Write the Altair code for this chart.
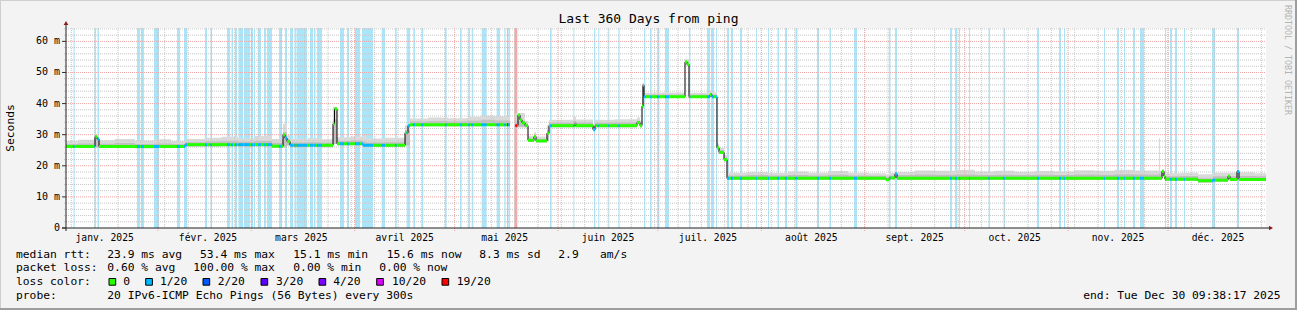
import altair as alt
import pandas as pd

# ---------------- data ----------------
T_START = 3.4     # 2025-01-04 09:38, in days since 2025-01-01 00:00
T_END = 363.4     # 2025-12-30 09:38
Y_MAX = 64.3      # ms at top of the canvas

month_start_day = [0, 31, 59, 90, 120, 151, 181, 212, 243, 273, 304, 334]
month_labels = ["janv. 2025", "févr. 2025", "mars 2025", "avril 2025", "mai 2025",
                "juin 2025", "juil. 2025", "août 2025", "sept. 2025", "oct. 2025",
                "nov. 2025", "déc. 2025"]
monday_days = list(range(5, 364, 7))
y_tick_values = [0, 10, 20, 30, 40, 50, 60]
y_tick_labels = ["0\u00a0\u00a0", "10 m", "20 m", "30 m", "40 m", "50 m", "60 m"]
y_minor_values = [v for v in range(2, 65, 2) if v % 10 != 0]

# median rtt (ms), step series: value holds from start until next start
median_start = [3.4, 12.1, 12.7, 13.3, 39.1, 65.2, 68.5, 69.1, 69.7, 70.6, 83.5, 83.95,
                84.7, 92.5, 105.1, 106.0, 106.6, 136.6, 138.2, 139.0, 139.6, 140.2, 141.1,
                142.0, 143.8, 144.4, 147.7, 148.3, 156.1, 156.4, 161.5, 162.1, 174.7, 175.6,
                176.2, 176.5, 176.8, 189.1, 189.7, 190.3, 196.6, 197.2, 198.7, 199.3, 200.8,
                201.7, 249.4, 250.3, 252.1, 252.7, 332.2, 332.8, 333.1, 343.0, 347.5, 352.0,
                352.6, 354.7, 355.3]
median_ms = [26.2, 29.3, 28.6, 26.2, 26.8, 26.3, 30.0, 28.9, 27.8, 26.6, 33.5, 38.3,
             27.1, 26.6, 30.6, 32.9, 33.2, None, 32.9, 36.3, 34.8, 33.8, 32.9,
             28.2, 29.4, 28.0, 30.5, 32.9, 33.6, 32.9, 31.6, 32.9, 33.9, 32.9,
             39.2, 45.9, 42.2, 53.4, 52.6, 42.2, 42.9, 42.2, 25.8, 24.3, 22.0,
             16.0, 15.5, 16.1, 17.4, 16.0, 18.2, 16.6, 15.7, 15.2, 15.4, 16.6,
             15.6, 18.2, 15.6]

# smoke (ping spread), step series
smoke_start = [3.4, 7.0, 12.1, 13.3, 18.0, 24.0, 30.0, 35.0, 39.1, 45.0, 50.0, 55.0, 60.0,
               65.2, 68.5, 69.7, 70.6, 76.0, 80.0, 83.5, 84.7, 89.0, 92.5, 93.5, 99.0,
               105.1, 106.6, 112.0, 118.0, 124.0, 128.0, 132.0, 136.6, 138.2, 141.1, 142.0,
               143.8, 144.4, 147.7, 148.3, 155.5, 156.4, 161.5, 162.1, 168.0, 174.7, 175.6,
               176.2, 176.8, 182.0, 189.1, 190.3, 196.6, 197.2, 198.7, 199.3, 200.8, 201.7,
               208.0, 214.0, 220.0, 226.0, 232.0, 238.0, 244.0, 249.4, 250.3, 252.1, 252.7,
               258.0, 264.0, 270.0, 276.0, 282.0, 288.0, 294.0, 300.0, 306.0, 312.0, 318.0,
               324.0, 326.0, 326.3, 331.3, 331.6, 332.2, 332.8, 333.1, 338.0, 343.0, 347.5,
               352.0, 352.6, 354.7, 355.3, 360.0]
smoke_lo = [25.7, 25.7, 25.9, 25.7, 25.7, 25.6, 25.7, 25.7, 26.2, 26.2, 26.3, 26.2, 26.3,
            25.8, 26.0, 26.5, 26.0, 26.1, 26.0, 27.0, 26.6, 26.6, 26.1, 26.1, 26.1,
            26.5, 32.7, 32.7, 32.7, 32.7, 32.8, 32.7, None, 32.4, 32.4, 27.7,
            28.9, 27.6, 28.0, 32.4, 32.4, 32.4, 31.2, 32.4, 32.4, 33.4, 32.4,
            38.5, 41.8, 41.8, 52.6, 41.8, 42.3, 41.8, 25.3, 23.8, 21.5, 15.5,
            15.5, 15.5, 15.5, 15.5, 15.5, 15.5, 15.5, 15.1, 15.6, 16.6, 15.5,
            15.5, 15.5, 15.5, 15.5, 15.5, 15.5, 15.5, 15.5, 15.5, 15.5, 15.5,
            15.5, 15.5, 15.5, 15.5, 15.5, 16.8, 15.9, 15.2, 15.2, 14.6, 14.9,
            15.9, 15.1, 17.2, 15.1, 15.1]
smoke_mid = [27.0, 27.2, 28.8, 27.1, 27.3, 27.0, 27.2, 27.0, 27.6, 27.8, 27.9, 27.7, 28.0,
             27.4, 30.8, 28.6, 27.5, 27.6, 27.4, 35.0, 28.0, 28.1, 27.8, 27.5, 27.6,
             31.5, 34.2, 34.4, 34.2, 34.5, 34.8, 34.6, None, 34.5, 33.6, 28.8,
             30.0, 28.6, 31.5, 33.8, 34.5, 33.9, 32.6, 33.8, 33.9, 34.5, 33.6,
             42.0, 42.8, 42.9, 53.6, 42.8, 43.3, 42.8, 26.5, 25.0, 22.7, 16.9,
             17.0, 16.9, 17.0, 16.9, 17.1, 16.9, 16.8, 16.3, 16.9, 18.0, 17.0,
             17.2, 17.1, 17.2, 17.0, 17.1, 17.0, 17.1, 17.0, 17.2, 17.1, 17.3,
             17.2, 17.5, 17.2, 17.5, 17.2, 18.5, 17.3, 16.6, 16.7, 16.0, 16.6,
             17.0, 16.6, 18.5, 16.7, 16.6]
smoke_hi = [28.0, 28.4, 29.8, 28.2, 28.6, 28.1, 28.5, 28.0, 28.6, 29.0, 29.3, 28.8, 29.6,
            28.6, 33.5, 29.8, 28.6, 28.9, 28.5, 39.0, 29.2, 29.4, 30.0, 28.8, 29.0,
            33.0, 35.2, 35.5, 35.3, 35.8, 36.2, 35.9, None, 37.0, 34.5, 29.6,
            30.8, 29.4, 33.0, 34.8, 35.8, 34.9, 33.5, 34.8, 35.0, 35.5, 34.6,
            46.5, 43.5, 43.6, 54.2, 43.5, 44.0, 43.6, 27.2, 25.8, 23.5, 17.8,
            18.0, 17.7, 18.2, 17.8, 18.3, 17.8, 17.6, 17.2, 17.8, 18.6, 18.0,
            18.5, 18.4, 18.7, 18.2, 18.4, 18.1, 18.3, 18.2, 18.6, 18.4, 18.7,
            18.5, 20.3, 18.5, 28.9, 18.4, 19.0, 18.0, 17.6, 17.8, 17.3, 17.8,
            17.8, 17.8, 19.0, 17.9, 17.6]

# packet-loss background bands
band_start = [5.65, 11.95, 12.85, 24.7, 25.9, 29.8, 36.7, 38.8, 45.1, 46.75, 51.7, 53.05,
              54.1, 55.15, 56.8, 58.9, 59.8, 61.0, 62.8, 63.7, 67.3, 69.1, 70.6, 71.95,
              72.7, 76.6, 77.8, 78.7, 85.6, 87.7, 90.1, 92.2, 98.1, 102.1, 105.6, 107.6,
              110.1, 117.1, 121.6, 124.1, 125.1, 128.1, 132.6, 134.9, 135.7, 136.1, 137.9,
              148.6, 155.6, 161.8, 163.1, 166.1, 169.1, 176.8, 178.6, 180.8, 183.1, 190.3,
              195.7, 196.9, 198.4, 201.7, 202.9, 205.6, 210.4, 214.0, 216.85, 219.1, 222.25,
              228.7, 232.45, 239.8, 250.3, 252.1, 268.6, 270.1, 271.3, 274.3, 280.15, 284.65,
              294.7, 301.3, 302.8, 314.8, 318.7, 320.8, 323.5, 325.6, 333.1, 334.6, 336.1,
              338.8, 347.2, 354.7]
band_end = [6.0, 12.4, 13.3, 25.6, 26.8, 31.3, 37.6, 39.7, 45.7, 47.2, 52.6, 53.5,
            54.7, 56.5, 58.6, 59.5, 60.1, 61.9, 63.4, 65.2, 68.2, 69.7, 71.5, 72.55,
            75.7, 77.5, 78.25, 80.2, 86.8, 88.3, 91.6, 95.5, 99.1, 102.6, 106.6, 108.1,
            110.6, 117.6, 122.1, 124.6, 125.6, 129.6, 133.6, 135.3, 136.05, 136.6, 138.8,
            149.1, 155.9, 162.2, 163.4, 166.4, 169.5, 177.2, 179.1, 181.4, 184.3, 190.75,
            196.6, 197.8, 198.7, 202.3, 203.5, 206.2, 210.7, 214.3, 217.3, 219.7, 222.85,
            229.3, 232.9, 240.7, 250.75, 252.7, 269.2, 270.7, 271.6, 274.6, 280.6, 285.1,
            295.3, 301.9, 303.1, 315.1, 319.3, 321.1, 324.1, 326.8, 333.4, 335.2, 336.7,
            339.1, 348.1, 355.3]
band_loss = ["1/20"] * len(band_start)
band_loss[44] = "4/20"
band_loss[46] = "19/20"

loss_names = ["0", "1/20", "2/20", "3/20", "4/20", "10/20", "19/20"]
loss_colors = ["#26ff00", "#00b8ff", "#0059ff", "#5e00ff", "#7e00ff", "#dd00ff", "#ff0000"]
loss_bg_colors = {"1/20": "#aae6fa", "4/20": "#d6b6fa", "19/20": "#f7a6a6"}

stats_rtt = ["23.9 ms avg", "53.4 ms max", "15.1 ms min", "15.6 ms now", "8.3 ms sd", "2.9", "am/s"]
stats_loss = ["0.60 % avg", "100.00 % max", "0.00 % min", "0.00 % now"]

assert len(median_start) == len(median_ms)
assert len(smoke_start) == len(smoke_lo) == len(smoke_mid) == len(smoke_hi)
assert len(band_start) == len(band_end)

# ---------------- build tables ----------------
W, H = 1200, 200
LEFT, TOP = 66, 28
color_of = dict(zip(loss_names, loss_colors))


def seg_index(t, starts):
    idx = 0
    for i, s in enumerate(starts):
        if s <= t:
            idx = i
    return idx


def band_at(t):
    for s, e, l in zip(band_start, band_end, band_loss):
        if s <= t < e:
            return l
    return "0"


brk = sorted(set([t for t in median_start + band_start + band_end if T_START <= t <= T_END] + [T_END]))
pieces, line_rows = [], []
grp = 0
last = None
for a, b in zip(brk[:-1], brk[1:]):
    m = (a + b) / 2
    v = median_ms[seg_index(m, median_start)]
    if v is None:
        if last is not None:
            line_rows.append({"d": last[0], "v": last[1], "g": grp})
            last = None
        grp += 1
        continue
    loss = band_at(m)
    pieces.append({"a": a, "b": b, "v": v, "col": color_of[loss]})
    line_rows.append({"d": a, "v": v, "g": grp})
    last = (b, v)
if last is not None:
    line_rows.append({"d": last[0], "v": last[1], "g": grp})
df_pieces = pd.DataFrame(pieces)
df_line = pd.DataFrame(line_rows)

smoke_rows = []
sg = 0
prev = None
for s, lo, mi, hi in zip(smoke_start, smoke_lo, smoke_mid, smoke_hi):
    if lo is None:
        if prev is not None:
            smoke_rows.append({"d": s, "lo": prev[0], "mi": prev[1], "hi": prev[2], "g": sg})
        prev = None
        sg += 1
        continue
    smoke_rows.append({"d": s, "lo": lo, "mi": mi, "hi": hi, "g": sg})
    prev = (lo, mi, hi)
smoke_rows.append({"d": T_END, "lo": prev[0], "mi": prev[1], "hi": prev[2], "g": sg})
df_smoke = pd.DataFrame(smoke_rows)

df_bands = pd.DataFrame({"s": band_start, "e": band_end,
                         "col": [loss_bg_colors[l] for l in band_loss]})

xs = alt.Scale(domain=[T_START, T_END], nice=False, zero=False)
ys = alt.Scale(domain=[0, Y_MAX], nice=False)
FONT = "DejaVu Sans Mono"
GRID_MINOR = "#c6c6c6"
GRID_MAJOR = "#eba4a4"

bands = alt.Chart(df_bands).mark_rect().encode(
    x=alt.X("s:Q", scale=xs, axis=None), x2="e:Q",
    y=alt.value(0), y2=alt.value(H),
    color=alt.Color("col:N", scale=None))

smoke_outer = alt.Chart(df_smoke).mark_area(interpolate="step-after", color="#dadada").encode(
    x=alt.X("d:Q", scale=xs, axis=None),
    y=alt.Y("lo:Q", scale=ys, axis=None), y2="hi:Q", detail="g:N")
smoke_inner = alt.Chart(df_smoke).mark_area(interpolate="step-after", color="#c0c0c0").encode(
    x=alt.X("d:Q", scale=xs, axis=None),
    y=alt.Y("lo:Q", scale=ys, axis=None), y2="mi:Q", detail="g:N")

hminor = alt.Chart(pd.DataFrame({"v": y_minor_values})).mark_rule(
    color=GRID_MINOR, strokeDash=[1, 1], strokeWidth=1).encode(
    y=alt.Y("v:Q", scale=ys, axis=None), x=alt.value(-2), x2=alt.value(W))
hmajor = alt.Chart(pd.DataFrame({"v": y_tick_values[1:]})).mark_rule(
    color=GRID_MAJOR, strokeDash=[1, 1], strokeWidth=1).encode(
    y=alt.Y("v:Q", scale=ys, axis=None), x=alt.value(0), x2=alt.value(W))
yticks = alt.Chart(pd.DataFrame({"v": y_tick_values})).mark_rule(
    color="#303030", strokeWidth=1).encode(
    y=alt.Y("v:Q", scale=ys, axis=None), x=alt.value(-4), x2=alt.value(0))
vminor = alt.Chart(pd.DataFrame({"d": monday_days})).mark_rule(
    color=GRID_MINOR, strokeDash=[1, 1], strokeWidth=1).encode(
    x=alt.X("d:Q", scale=xs, axis=None), y=alt.value(0), y2=alt.value(H))
vmajor = alt.Chart(pd.DataFrame({"d": [d for d in month_start_day if d > T_START]})).mark_rule(
    color=GRID_MAJOR, strokeDash=[1, 1], strokeWidth=1).encode(
    x=alt.X("d:Q", scale=xs, axis=None), y=alt.value(0), y2=alt.value(H + 3))

mline = alt.Chart(df_line).mark_line(interpolate="step-after", color="#000000", strokeWidth=1).encode(
    x=alt.X("d:Q", scale=xs, axis=None), y=alt.Y("v:Q", scale=ys, axis=None), detail="g:N")
mcol = alt.Chart(df_pieces).mark_rule(strokeWidth=3, strokeCap="butt").encode(
    x=alt.X("a:Q", scale=xs, axis=None), x2="b:Q",
    y=alt.Y("v:Q", scale=ys, axis=None),
    color=alt.Color("col:N", scale=None))

one = pd.DataFrame({"k": [0]})
yaxis = alt.Chart(one).mark_rule(color="#202020").encode(
    x=alt.value(0), y=alt.value(-3), y2=alt.value(H + 3))
xaxis = alt.Chart(one).mark_rule(color="#202020").encode(
    y=alt.value(H), x=alt.value(-4), x2=alt.value(W + 3))
arrow_up = alt.Chart(one).mark_point(shape="triangle-up", filled=True, size=22,
                                     color="#8a1c1c", opacity=1).encode(
    x=alt.value(0), y=alt.value(-5))
arrow_right = alt.Chart(one).mark_point(shape="triangle-right", filled=True, size=22,
                                        color="#8a1c1c", opacity=1).encode(
    x=alt.value(W + 5), y=alt.value(H))

df_months = pd.DataFrame({"d": [s + 15 for s in month_start_day], "t": month_labels})
month_text = alt.Chart(df_months).mark_text(font=FONT, fontSize=9.7, baseline="middle",
                                            align="center", color="#000").encode(
    x=alt.X("d:Q", scale=xs, axis=None), y=alt.value(H + 9.7), text="t:N")

df_yl = pd.DataFrame({"v": y_tick_values, "t": y_tick_labels})
ylab_text = alt.Chart(df_yl).mark_text(font=FONT, fontSize=10, baseline="middle",
                                       align="right", color="#000").encode(
    y=alt.Y("v:Q", scale=ys, axis=None), x=alt.value(-6), text="t:N")

# text placed in picture pixels (layout)
items = []
r1 = [16, 107.3, 200, 293.3, 386.7, 479.3, 558.3, 600]
for x, t in zip(r1, ["median rtt:"] + stats_rtt):
    items.append((x, 255, t))
r2 = [16, 107.3, 193.3, 293.3, 379.3]
for x, t in zip(r2, ["packet loss:"] + stats_loss):
    items.append((x, 268.3, t))
r3 = [16, 123.3, 160, 217.7, 276, 333.3, 392, 456.7]
for x, t in zip(r3, ["loss color:"] + loss_names):
    items.append((x, 282.2, t))
items.append((16, 296, "probe:"))
items.append((107.3, 296, "20 IPv6-ICMP Echo Pings (56 Bytes) every 300s"))
df_leg = pd.DataFrame([{"px": x - LEFT, "py": y - TOP, "t": t} for x, y, t in items])
legend_text = alt.Chart(df_leg).mark_text(font=FONT, fontSize=11.3, baseline="middle",
                                          align="left", color="#000").encode(
    x=alt.X("px:Q", scale=None), y=alt.Y("py:Q", scale=None), text="t:N")

box_x = [109, 145.7, 203, 261, 319, 376.7, 442]
df_box = pd.DataFrame({"x1": [x - LEFT for x in box_x], "x2": [x - LEFT + 6.7 for x in box_x],
                       "y1": [278.5 - TOP] * 7, "y2": [285.2 - TOP] * 7, "col": loss_colors})
boxes = alt.Chart(df_box).mark_rect(stroke="#000", strokeWidth=1).encode(
    x=alt.X("x1:Q", scale=None), x2="x2:Q", y=alt.Y("y1:Q", scale=None), y2="y2:Q",
    color=alt.Color("col:N", scale=None))

end_text = alt.Chart(one).mark_text(font=FONT, fontSize=11.3, baseline="middle", align="right",
                                    color="#000", text="end: Tue Dec 30 09:38:17 2025").encode(
    x=alt.value(1280.5 - LEFT), y=alt.value(295.8 - TOP))
title_text = alt.Chart(one).mark_text(font=FONT, fontSize=13, baseline="middle", align="center",
                                      color="#000", text="Last 360 Days from ping").encode(
    x=alt.value(648.5 - LEFT), y=alt.value(19 - TOP))
ytitle = alt.Chart(one).mark_text(font=FONT, fontSize=11.3, baseline="middle", align="center",
                                  angle=270, color="#000", text="Seconds").encode(
    x=alt.value(10.5 - LEFT), y=alt.value(128 - TOP))
rrd_text = alt.Chart(one).mark_text(font=FONT, fontSize=8.3, baseline="middle", align="center",
                                    angle=90, color="#b4b4b4", text="RRDTOOL / TOBI OETIKER").encode(
    x=alt.value(1287 - LEFT), y=alt.value(60 - TOP))

border_tl = alt.Chart(pd.DataFrame({"x1": [-LEFT, -LEFT + 0.5], "x2": [1297 - LEFT, -LEFT + 0.5],
                                    "y1": [-TOP + 0.5, -TOP], "y2": [-TOP + 0.5, 310 - TOP]})).mark_rule(
    color="#cfcfcf", strokeWidth=1).encode(
    x=alt.X("x1:Q", scale=None), x2="x2:Q", y=alt.Y("y1:Q", scale=None), y2="y2:Q")
border_br = alt.Chart(pd.DataFrame({"x1": [-LEFT, 1296 - LEFT], "x2": [1297 - LEFT, 1296 - LEFT],
                                    "y1": [309 - TOP, -TOP], "y2": [309 - TOP, 310 - TOP]})).mark_rule(
    color="#9e9e9e", strokeWidth=2).encode(
    x=alt.X("x1:Q", scale=None), x2="x2:Q", y=alt.Y("y1:Q", scale=None), y2="y2:Q")

chart = alt.layer(
    bands, smoke_outer, smoke_inner, hminor, hmajor, vminor, vmajor,
    mline, mcol, yaxis, xaxis, yticks, arrow_up, arrow_right,
    month_text, ylab_text, legend_text, boxes, end_text, title_text, ytitle, rrd_text,
    border_tl, border_br,
).properties(
    width=W, height=H,
    autosize=alt.AutoSizeParams(type="none"),
    padding={"left": LEFT, "top": TOP, "right": 1297 - LEFT - W, "bottom": 310 - TOP - H},
    background="#f3f3f3",
).configure_view(fill="white", stroke=None)

chart.save("out.html", embed_options={"renderer": "svg", "actions": False})
